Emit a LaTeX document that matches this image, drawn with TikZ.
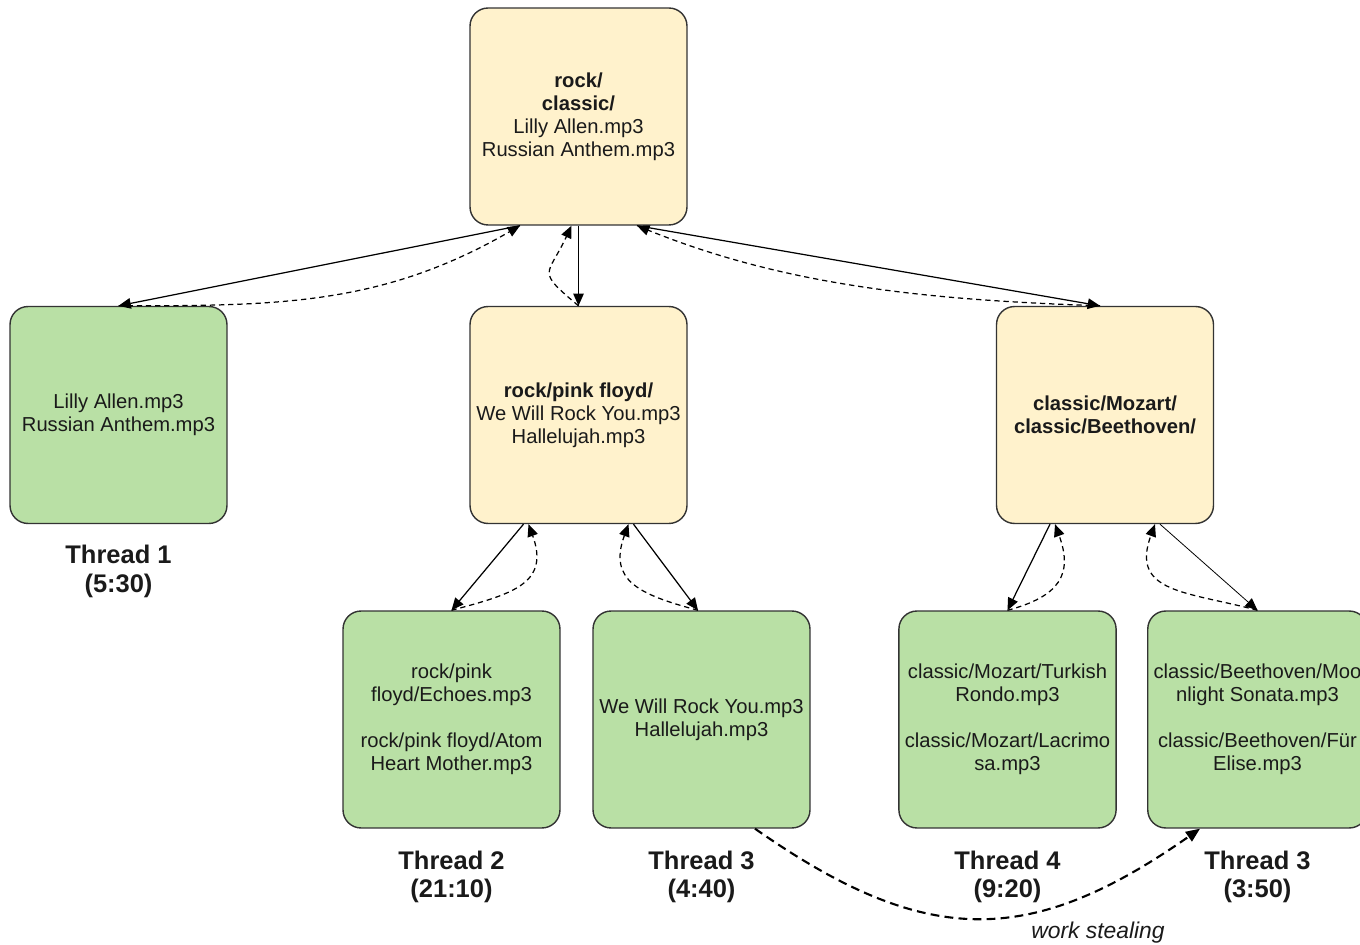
\documentclass[tikz,border=0pt]{standalone}
\usepackage{fontspec}
\setmainfont{Liberation Sans}
\usetikzlibrary{positioning}
\usetikzlibrary{arrows.meta}
\usepackage{xcolor}
\definecolor{dirfill}{HTML}{FFF2CC}
\definecolor{filefill}{HTML}{B9E0A5}
\definecolor{boxline}{HTML}{333333}
\definecolor{inktext}{HTML}{1A1A1A}

\begin{document}
\begin{tikzpicture}[
		x=0.02cm, y=0.02cm,
		% Style definitions for the split tree
		dirbox/.style={draw=boxline, line width=0.8pt, fill=dirfill, text=inktext, rounded corners=0.36cm, minimum width=4.34cm, minimum height=4.34cm, font=\fontsize{11.5}{13.1}\selectfont, align=center},
		filebox/.style={dirbox, fill=filefill},
		thread/.style={font=\fontsize{14.5}{16}\selectfont\bfseries, text=inktext, align=center, inner sep=0pt},
		split/.style={-{Triangle[length=7pt,width=6pt]}, line width=0.7pt},
		back/.style={split, dash pattern=on 3pt off 2.2pt},
		steal/.style={-{Triangle[length=8pt,width=6.5pt]}, line width=1.2pt, dash pattern=on 5pt off 3pt},
		]
		\useasboundingbox (0,0) rectangle (1360,-945);

		% === Level 0: root directory ===
		\node[dirbox] (root) at (578.5,-116.5) {\textbf{rock/}\\\textbf{classic/}\\Lilly Allen.mp3\\Russian Anthem.mp3};

		% === Level 1 ===
		\node[filebox] (t1) at (118.5,-415) {Lilly Allen.mp3\\Russian Anthem.mp3};
		\node[dirbox] (pink) at (578.5,-415) {\textbf{rock/pink floyd/}\\We Will Rock You.mp3\\Hallelujah.mp3};
		\node[dirbox] (classic) at (1105,-415) {\textbf{classic/Mozart/}\\\textbf{classic/Beethoven/}};

		% === Level 2 ===
		\node[filebox] (t2) at (451.5,-719.5) {rock/pink\\floyd/Echoes.mp3\\[13.1pt]rock/pink floyd/Atom\\Heart Mother.mp3};
		\node[filebox] (t3) at (701.5,-719.5) {We Will Rock You.mp3\\Hallelujah.mp3};
		\node[filebox] (t4) at (1007.5,-719.5) {classic/Mozart/Turkish\\Rondo.mp3\\[13.1pt]classic/Mozart/Lacrimo\\sa.mp3};
		\node[filebox] (t3b) at (1257.5,-719.5) {classic/Beethoven/Moo\\nlight Sonata.mp3\\[13.1pt]classic/Beethoven/F\"ur\\Elise.mp3};

		% === Thread labels ===
		\node[thread, below=0.42cm of t1] (l1) {Thread 1\\(5:30)};
		\node[thread, below=0.44cm of t2] (l2) {Thread 2\\(21:10)};
		\node[thread, below=0.44cm of t3] (l3) {Thread 3\\(4:40)};
		\node[thread, below=0.44cm of t4] (l4) {Thread 4\\(9:20)};
		\node[thread, below=0.44cm of t3b] (l3b) {Thread 3\\(3:50)};

		% === Split and return arrows ===
		\draw[split] ([xshift=-1.17cm]root.south) -- (t1.north);
		\draw[back] (t1.north) to[out=0, in=-150] ([xshift=-1.17cm]root.south);
		\draw[split] (root.south) -- (pink.north);
		\draw[back] (pink.north) to[out=140, in=-115, looseness=1.8] ([xshift=-0.14cm]root.south);
		\draw[split] ([xshift=1.17cm]root.south) -- ([xshift=-0.1cm]classic.north);
		\draw[back] ([xshift=-0.1cm]classic.north) to[out=178, in=-22, looseness=0.9] ([xshift=1.17cm]root.south);

		\draw[split] ([xshift=-1.1cm]pink.south) -- (t2.north);
		\draw[back] (t2.north) to[out=15, in=-70, looseness=1.4] ([xshift=-1.0cm]pink.south);
		\draw[split] ([xshift=1.1cm]pink.south) -- ([xshift=-0.07cm]t3.north);
		\draw[back] ([xshift=-0.07cm]t3.north) to[out=165, in=-110, looseness=1.4] ([xshift=1.0cm]pink.south);

		\draw[split] ([xshift=-1.1cm]classic.south) -- (t4.north);
		\draw[back] (t4.north) to[out=15, in=-70, looseness=1.4] ([xshift=-1.0cm]classic.south);
		\draw[split, line width=0.45pt] ([xshift=1.1cm]classic.south) -- (t3b.north);
		\draw[back] (t3b.north) to[out=165, in=-110, looseness=1.4] ([xshift=1.0cm]classic.south);

		% === Work stealing ===
		\draw[steal] ([xshift=1.07cm]t3.south) to[out=-35, in=-145, looseness=1.2] ([xshift=-1.15cm]t3b.south);
		\node[font=\fontsize{13}{15}\selectfont\itshape, text=inktext] (stealtext) at (1098,-933) {work stealing};

	\end{tikzpicture}
\end{document}
